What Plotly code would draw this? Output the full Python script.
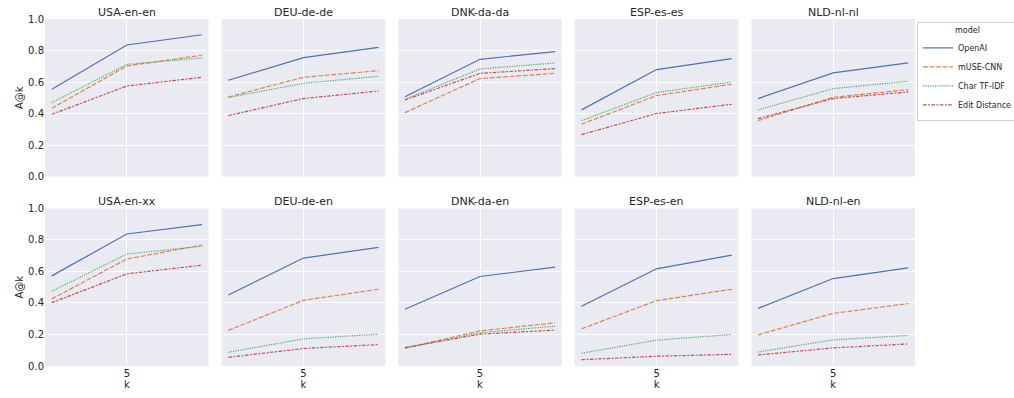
import plotly.graph_objects as go
from plotly.subplots import make_subplots

K_VALUES = ["1", "5", "10"]
MODELS = ["OpenAI", "mUSE-CNN", "Char TF-IDF", "Edit Distance"]
PANELS = ["USA-en-en", "DEU-de-de", "DNK-da-da", "ESP-es-es", "NLD-nl-nl",
          "USA-en-xx", "DEU-de-en", "DNK-da-en", "ESP-es-en", "NLD-nl-en"]

openai = [
    [0.554, 0.835, 0.900], [0.611, 0.755, 0.820], [0.507, 0.744, 0.793],
    [0.423, 0.679, 0.748], [0.495, 0.658, 0.721],
    [0.572, 0.838, 0.898], [0.451, 0.685, 0.753], [0.360, 0.568, 0.628],
    [0.379, 0.617, 0.704], [0.366, 0.555, 0.623],
]
muse_cnn = [
    [0.433, 0.702, 0.770], [0.505, 0.630, 0.672], [0.406, 0.622, 0.655],
    [0.332, 0.514, 0.586], [0.355, 0.503, 0.552],
    [0.426, 0.679, 0.768], [0.226, 0.417, 0.487], [0.113, 0.223, 0.274],
    [0.236, 0.415, 0.487], [0.198, 0.334, 0.396],
]
char_tfidf = [
    [0.469, 0.712, 0.753], [0.501, 0.592, 0.636], [0.490, 0.683, 0.721],
    [0.355, 0.533, 0.600], [0.423, 0.558, 0.605],
    [0.474, 0.711, 0.760], [0.087, 0.172, 0.202], [0.113, 0.211, 0.253],
    [0.081, 0.164, 0.200], [0.089, 0.166, 0.194],
]
edit_distance = [
    [0.395, 0.575, 0.630], [0.387, 0.495, 0.543], [0.486, 0.655, 0.685],
    [0.266, 0.400, 0.459], [0.368, 0.495, 0.537],
    [0.402, 0.585, 0.640], [0.055, 0.111, 0.136], [0.117, 0.202, 0.228],
    [0.040, 0.062, 0.074], [0.070, 0.115, 0.140],
]

SERIES = [openai, muse_cnn, char_tfidf, edit_distance]
COLORS = ["#4C72B0", "#DD8452", "#55A868", "#C44E52"]
DASHES = ["solid", "4.8px,1.8px", "1.2px,1.2px", "3.6px,1.5px,1.8px,1.5px"]

TXT = "#262626"
FONT = "DejaVu Sans"

fig = make_subplots(rows=2, cols=5, subplot_titles=PANELS,
                    horizontal_spacing=0.0148, vertical_spacing=0.092)

for p in range(10):
    r, c = p // 5 + 1, p % 5 + 1
    for m, name in enumerate(MODELS):
        fig.add_trace(go.Scatter(
            x=K_VALUES, y=SERIES[m][p], mode="lines", name=name,
            legendgroup=name, showlegend=(p == 0),
            line=dict(color=COLORS[m], width=1.2, dash=DASHES[m]),
        ), row=r, col=c)
    fig.update_xaxes(type="category", range=[-0.09, 2.09], automargin=False,
                     tickmode="array", tickvals=["5"], ticktext=["5"],
                     showticklabels=(r == 2), showgrid=True, gridcolor="white",
                     gridwidth=1, zeroline=False, showline=False, ticks="",
                     tickfont=dict(size=10, color=TXT, family=FONT),
                     title=dict(text="k" if r == 2 else "", standoff=1,
                                font=dict(size=10, color=TXT, family=FONT)),
                     row=r, col=c)
    fig.update_yaxes(range=[0, 1.0], tickvals=[0, 0.2, 0.4, 0.6, 0.8, 1.0],
                     automargin=False,
                     tickformat=".1f", showticklabels=(c == 1),
                     showgrid=True, gridcolor="white", gridwidth=1,
                     zeroline=False, showline=False, ticks="",
                     tickfont=dict(size=10, color=TXT, family=FONT),
                     title=dict(text="A@k" if c == 1 else "", standoff=2,
                                font=dict(size=10, color=TXT, family=FONT)),
                     row=r, col=c)

for ann in fig.layout.annotations:
    ann.font = dict(size=11, color=TXT, family=FONT)
    ann.yshift = -2

fig.update_layout(
    width=1014, height=398,
    margin=dict(l=45, r=99, t=19, b=32, autoexpand=False),
    paper_bgcolor="white", plot_bgcolor="#EAEAF2",
    font=dict(family=FONT, color=TXT),
    hovermode=False,
    legend=dict(
        title=dict(text="model", side="top center",
                   font=dict(size=8, color=TXT, family=FONT)),
        xref="container", yref="container",
        x=917 / 1014, y=1 - 22 / 398, xanchor="left", yanchor="top",
        bgcolor="white", bordercolor="#D0D0D0", borderwidth=1,
        font=dict(size=8, color=TXT, family=FONT),
        tracegroupgap=0, itemwidth=30,
    ),
)

fig.write_html("out.html",
               config={"displayModeBar": False, "staticPlot": True},
               post_script="document.body.style.margin='0';"
                           "document.body.style.overflow='hidden';")
